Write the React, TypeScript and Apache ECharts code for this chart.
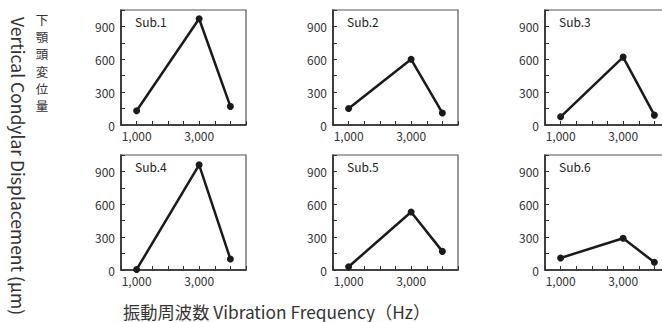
import React, { useEffect, useRef } from "react";
import * as echarts from "echarts";

const frequencies = [1000, 3000, 4000];
const subjects = ["Sub.1", "Sub.2", "Sub.3", "Sub.4", "Sub.5", "Sub.6"];
const sub1 = [130, 970, 170];
const sub2 = [150, 600, 110];
const sub3 = [75, 620, 90];
const sub4 = [5, 960, 100];
const sub5 = [30, 530, 170];
const sub6 = [110, 290, 70];
const seriesValues = [sub1, sub2, sub3, sub4, sub5, sub6];
const yTickLabels = [0, 300, 600, 900];
const xTickLabels = [1000, 3000];
const yTitleJa = ["下", "顎", "頭", "変", "位", "量"];

const FONT = "'Noto Sans CJK JP', 'Noto Sans', sans-serif";
const colLefts = [121, 333, 545];
const rowTops = [10, 155];
const gridW = 125;
const gridH = 115;

export default function App() {
  const ref = useRef<HTMLDivElement>(null);
  useEffect(() => {
    if (!ref.current) return;
    const chart = echarts.init(ref.current, null, { renderer: "svg" });
    const grids: any[] = [];
    const xAxes: any[] = [];
    const yAxes: any[] = [];
    const series: any[] = [];
    const titles: any[] = [];
    subjects.forEach((name, i) => {
      const c = i % 3;
      const r = Math.floor(i / 3);
      grids.push({
        left: colLefts[c],
        top: rowTops[r],
        width: gridW,
        height: gridH,
        show: true,
        borderColor: "#555",
        borderWidth: 1.2,
        backgroundColor: "transparent",
      });
      xAxes.push({
        type: "value",
        gridIndex: i,
        min: 500,
        max: 4500,
        interval: 500,
        axisLine: { show: true, lineStyle: { color: "#222", width: 1.5 } },
        axisTick: { show: true, inside: true, length: 4, lineStyle: { color: "#333" } },
        splitLine: { show: false },
        axisLabel: {
          color: "#333",
          fontSize: 12,
          fontFamily: FONT,
          margin: 4,
          formatter: (v: number) =>
            xTickLabels.includes(v) ? v.toLocaleString("en-US") : "",
        },
      });
      yAxes.push({
        type: "value",
        gridIndex: i,
        min: 0,
        max: 1050,
        interval: 150,
        axisLine: { show: true, lineStyle: { color: "#222", width: 1.5 } },
        axisTick: { show: true, inside: true, length: 4, lineStyle: { color: "#333" } },
        splitLine: { show: false },
        axisLabel: {
          color: "#333",
          fontSize: 12,
          fontFamily: FONT,
          margin: 6,
          formatter: (v: number) => (yTickLabels.includes(v) ? String(v) : ""),
        },
      });
      series.push({
        type: "line",
        xAxisIndex: i,
        yAxisIndex: i,
        data: frequencies.map((f, j) => [f, seriesValues[i][j]]),
        symbol: "circle",
        symbolSize: 7,
        itemStyle: { color: "#1a1a1a" },
        lineStyle: { color: "#1a1a1a", width: 2.5 },
      });
      titles.push({
        text: name,
        left: colLefts[c] + 14,
        top: rowTops[r] + 5,
        textStyle: { fontSize: 12, fontWeight: "normal", color: "#222", fontFamily: FONT },
        padding: 0,
      });
    });

    const jaChars = yTitleJa.map((ch, k) => ({
      type: "text",
      x: 42,
      y: 13 + k * 17.3,
      style: {
        text: ch,
        fontSize: 12.5,
        fill: "#333",
        fontFamily: FONT,
        align: "center",
        verticalAlign: "top",
      },
    }));

    chart.setOption({
      animation: false,
      backgroundColor: "#fff",
      title: titles,
      grid: grids,
      xAxis: xAxes,
      yAxis: yAxes,
      series,
      graphic: [
        ...jaChars,
        {
          type: "text",
          x: 18,
          y: 166,
          rotation: -Math.PI / 2,
          style: {
            text: "Vertical Condylar Displacement (μm)",
            fontSize: 17.5,
            fill: "#333",
            fontFamily: FONT,
            align: "center",
            verticalAlign: "middle",
          },
        },
        {
          type: "text",
          x: 123,
          y: 311,
          style: {
            text: "振動周波数 Vibration Frequency（Hz）",
            fontSize: 17.3,
            fill: "#333",
            fontFamily: FONT,
            align: "left",
            verticalAlign: "middle",
          },
        },
      ],
    });
    return () => chart.dispose();
  }, []);
  return (
    <div
      style={{
        position: "fixed",
        left: 0,
        top: 0,
        width: 662,
        height: 322,
        overflow: "hidden",
      }}
    >
      <div ref={ref} style={{ width: 700, height: 322 }} />
    </div>
  );
}
